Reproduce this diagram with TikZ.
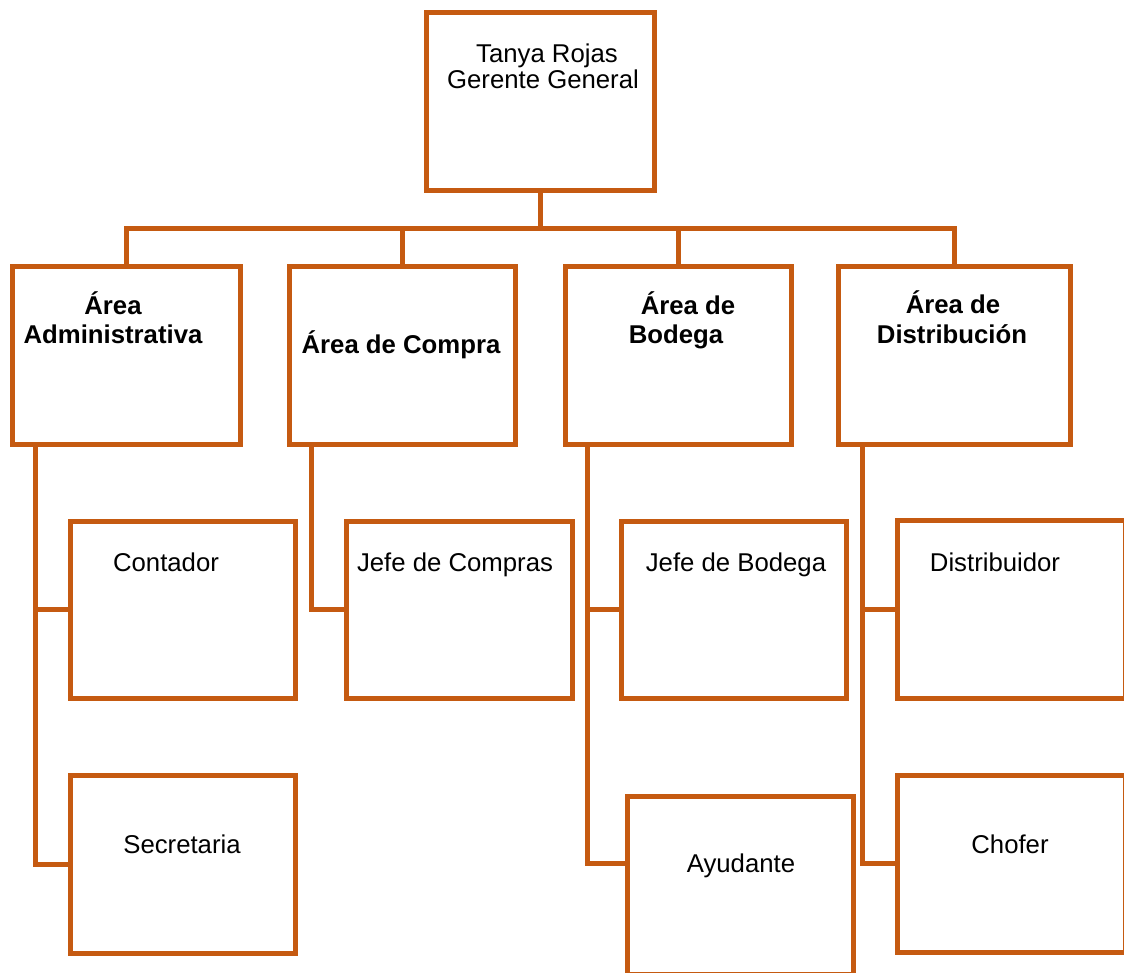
\documentclass[tikz,border=0pt]{standalone}
\usepackage{fontspec}
\setmainfont{Liberation Sans}
\usetikzlibrary{calc}
\definecolor{org}{RGB}{197,90,17}
\begin{document}
\begin{tikzpicture}[x=0.75pt,y=-0.75pt,
  box/.style={draw=org,line width=3.75pt,rectangle,inner sep=0pt,outer sep=0pt},
  sz/.style 2 args={minimum width=#1*0.75pt,minimum height=#2*0.75pt},
  conn/.style={draw=org,line width=3.75pt,line join=miter},
  txt/.style={anchor=base,inner sep=0pt,font=\fontsize{19.3}{23}\selectfont},
  btxt/.style={anchor=base,inner sep=0pt,font=\fontsize{19.3}{23}\selectfont\bfseries}]
\useasboundingbox (0,0) rectangle (1124,972);
\clip (0,0) rectangle (1124,972);

% boxes
\node[box,sz={228}{178}] (top) at (540,101) {};
\node[box,sz={228}{178}] (admin) at (126,355) {};
\node[box,sz={226}{178}] (compra) at (402,355) {};
\node[box,sz={226}{178}] (bodega) at (678,355) {};
\node[box,sz={232}{178}] (distrib) at (954,355) {};
\node[box,sz={225}{177}] (contador) at (182.5,609.5) {};
\node[box,sz={225}{178}] (secretaria) at (182.5,864) {};
\node[box,sz={226}{177}] (jcompras) at (459,609.5) {};
\node[box,sz={225}{177}] (jbodega) at (733.5,609.5) {};
\node[box,sz={226}{178}] (ayudante) at (740,885) {};
\node[box,sz={228}{178}] (distribuidor) at (1011,609) {};
\node[box,sz={228}{177}] (chofer) at (1011,863.5) {};

% top-level connectors
\draw[conn] (top.south) -- ++(0,38) coordinate (bus);
\draw[conn] (admin.north) |- (bus) -| (distrib.north);
\draw[conn] (compra.north) -- (compra.north |- bus);
\draw[conn] (bodega.north) -- (bodega.north |- bus);

% second-level connectors
\coordinate (av) at ($(admin.south)+(-91,0)$);
\draw[conn] (av) |- (secretaria.west);
\draw[conn] (av |- contador.west) -- (contador.west);

\coordinate (cv) at ($(compra.south)+(-91,0)$);
\draw[conn] (cv) |- (jcompras.west);

\coordinate (bv) at ($(bodega.south)+(-91,0)$);
\coordinate (ab) at ($(ayudante.west)+(0,-22)$);
\draw[conn] (bv) |- (ab);
\draw[conn] (bv |- jbodega.west) -- (jbodega.west);

\coordinate (dv) at ($(distrib.south)+(-92,0)$);
\draw[conn] (dv) |- (chofer.west);
\draw[conn] (dv |- distribuidor.west) -- (distribuidor.west);

% texts
\node[txt] (t1) at (547,62) {Tanya Rojas};
\node[txt] (t2) at (543,88) {Gerente General};
\node[btxt] (t3) at (113,314) {Área};
\node[btxt] (t4) at (113,343) {Administrativa};
\node[btxt] (t5) at (401,353) {Área de Compra};
\node[btxt] (t6) at (688,314) {Área de};
\node[btxt] (t7) at (676,343) {Bodega};
\node[btxt] (t8) at (953,313) {Área de};
\node[btxt] (t9) at (952,343) {Distribución};
\node[txt] (t10) at (166,571) {Contador};
\node[txt] (t11) at (455,571) {Jefe de Compras};
\node[txt] (t12) at (736,571) {Jefe de Bodega};
\node[txt] (t13) at (995,571) {Distribuidor};
\node[txt] (t14) at (182,853) {Secretaria};
\node[txt] (t15) at (741,872) {Ayudante};
\node[txt] (t16) at (1010,853) {Chofer};
\end{tikzpicture}
\end{document}
